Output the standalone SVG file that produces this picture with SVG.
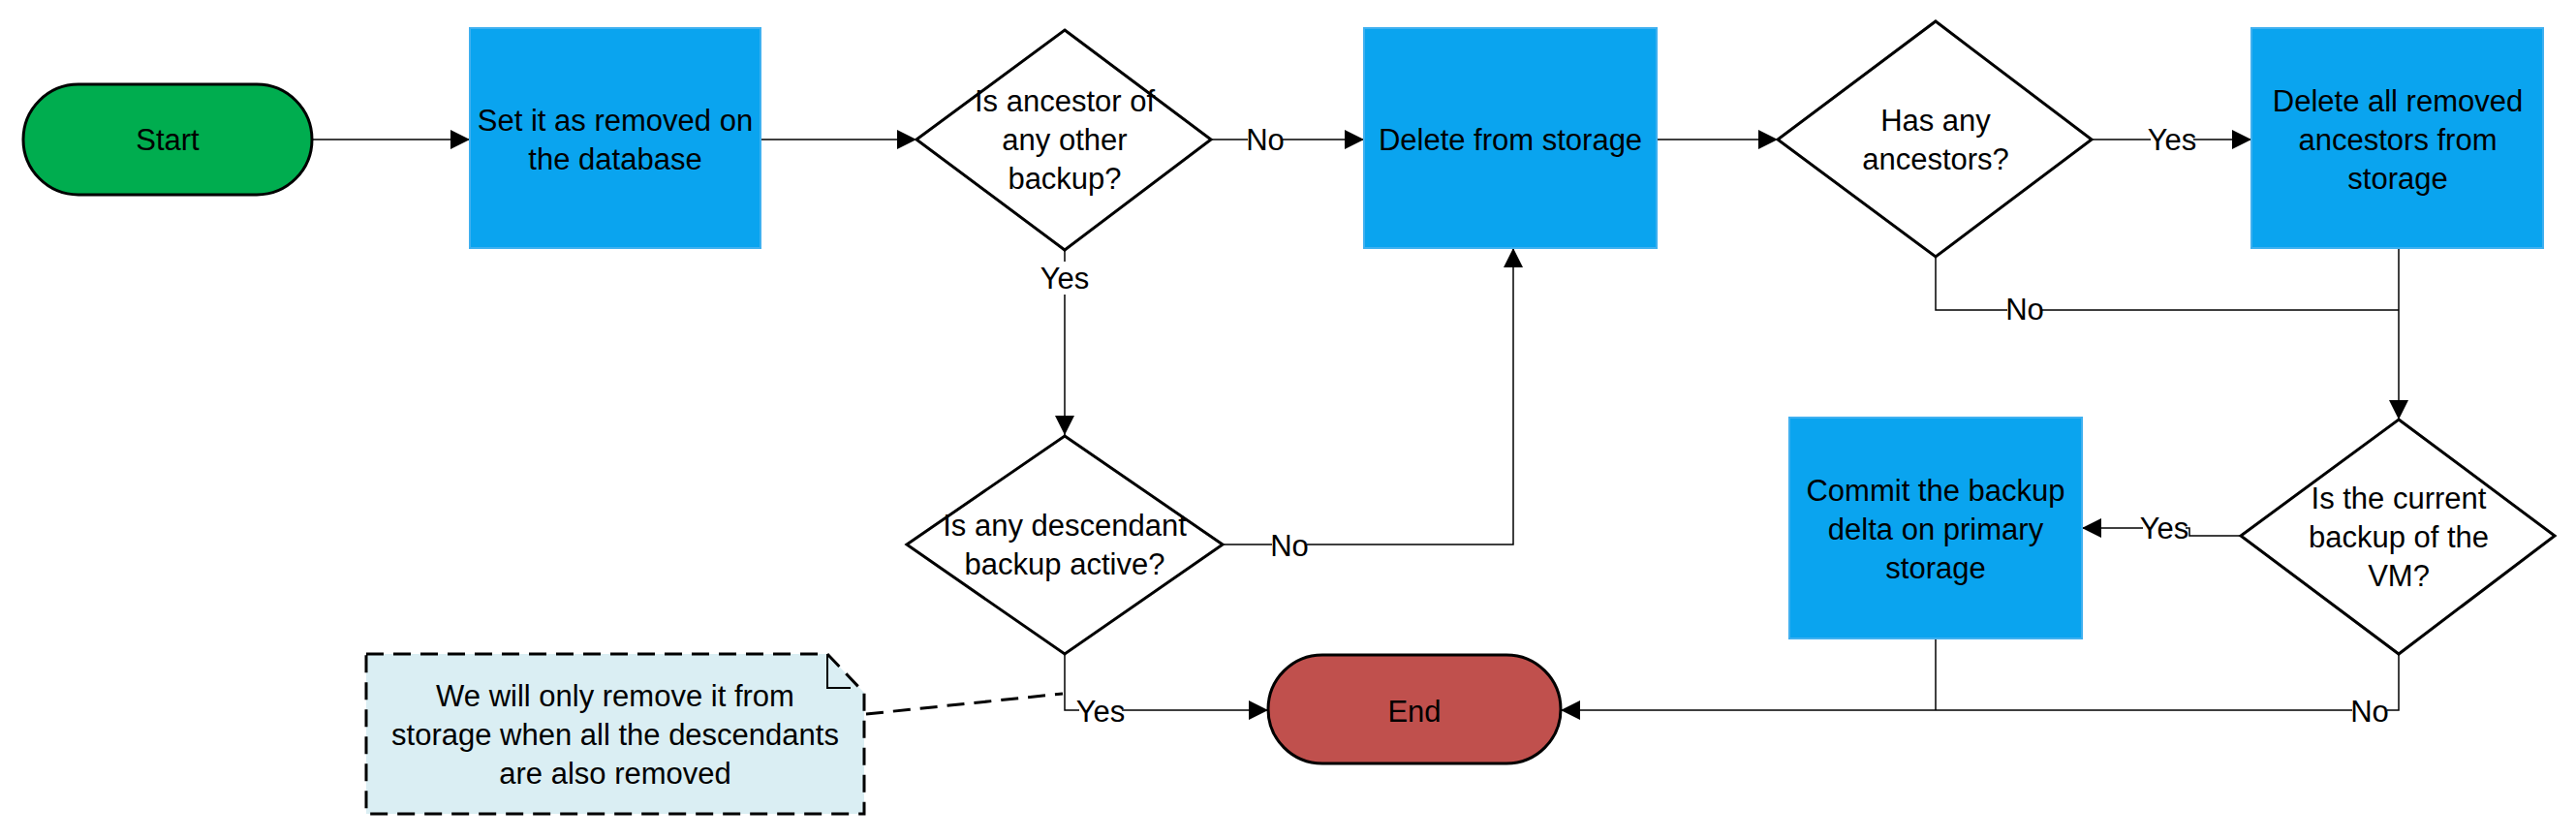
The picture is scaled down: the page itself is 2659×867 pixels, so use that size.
<svg xmlns="http://www.w3.org/2000/svg" width="2659" height="867" viewBox="0 0 2659 867">
<defs>
<style>
text{font-family:"Liberation Sans Narrow","Liberation Sans",sans-serif;font-size:31px;fill:#000;text-anchor:middle}
.box{fill:#0AA4EF;stroke:#3fb0f0;stroke-width:2}
.dia{fill:#fff;stroke:#000;stroke-width:3}
.c{fill:none;stroke:#000;stroke-width:1.5}
.lbl{fill:#fff}
</style>
<marker id="a" viewBox="0 0 10 10" refX="10" refY="5" markerWidth="8" markerHeight="8" markerUnits="userSpaceOnUse" orient="auto"><path d="M0,0L10,5L0,10z" fill="#000"/></marker>
<marker id="ab" viewBox="0 0 10 10" refX="10" refY="5" markerWidth="20" markerHeight="20" markerUnits="userSpaceOnUse" orient="auto"><path d="M0,0L10,5L0,10z" fill="#000"/></marker>
</defs>
<g id="connectors">
<path class="c" marker-end="url(#ab)" d="M322,144H485"/>
<path class="c" marker-end="url(#ab)" d="M785,144H946"/>
<path class="c" marker-end="url(#ab)" d="M1250,144H1408"/>
<path class="c" marker-end="url(#ab)" d="M1099,258V449"/>
<path class="c" marker-end="url(#ab)" d="M1262,562H1562V256"/>
<path class="c" marker-end="url(#ab)" d="M1710,144H1835"/>
<path class="c" marker-end="url(#ab)" d="M2159,144H2324"/>
<path class="c" d="M1998,265V320H2476"/>
<path class="c" marker-end="url(#ab)" d="M2476,256V433"/>
<path class="c" marker-end="url(#ab)" d="M2312,553H2260V545H2149"/>
<path class="c" marker-end="url(#ab)" d="M2476,675V733H1611"/>
<path class="c" d="M1998,660V733"/>
<path class="c" marker-end="url(#ab)" d="M1099,675V733H1309"/>
<path fill="none" stroke="#000" stroke-width="3" stroke-dasharray="18,10" d="M894,737L1097,716"/>
<rect class="lbl" x="1288" y="126" width="36" height="34"/><text x="1306" y="155">No</text>
<rect class="lbl" x="1077" y="270" width="44" height="34"/><text x="1099" y="298">Yes</text>
<rect class="lbl" x="1313" y="545" width="36" height="34"/><text x="1331" y="574">No</text>
<rect class="lbl" x="2220" y="126" width="44" height="34"/><text x="2242" y="155">Yes</text>
<rect class="lbl" x="2072" y="303" width="36" height="34"/><text x="2090" y="330">No</text>
<rect class="lbl" x="2212" y="530" width="44" height="30"/><text x="2234" y="556">Yes</text>
<rect class="lbl" x="2428" y="716" width="36" height="34"/><text x="2446" y="745">No</text>
<rect class="lbl" x="1114" y="716" width="44" height="34"/><text x="1136" y="745">Yes</text>
</g>
<g id="start"><rect x="24" y="87" width="298" height="114" rx="57" fill="#00AD4F" stroke="#000" stroke-width="3"/><text x="173" y="155">Start</text></g>
<g id="set-removed"><rect class="box" x="485" y="29" width="300" height="227"/><text x="635" y="135">Set it as removed on</text><text x="635" y="175">the database</text></g>
<g id="is-ancestor"><polygon class="dia" points="1099,31 1250,144 1099,258 946,144"/><text x="1099" y="115">Is ancestor of</text><text x="1099" y="155">any other</text><text x="1099" y="195">backup?</text></g>
<g id="delete-storage"><rect class="box" x="1408" y="29" width="302" height="227"/><text x="1559" y="155">Delete from storage</text></g>
<g id="has-ancestors"><polygon class="dia" points="1998,22 2159,144 1998,265 1835,144"/><text x="1998" y="135">Has any</text><text x="1998" y="175">ancestors?</text></g>
<g id="delete-ancestors"><rect class="box" x="2324" y="29" width="301" height="227"/><text x="2475" y="115">Delete all removed</text><text x="2475" y="155">ancestors from</text><text x="2475" y="195">storage</text></g>
<g id="is-current"><polygon class="dia" points="2476,433 2637,553 2476,675 2313,553"/><text x="2476" y="525">Is the current</text><text x="2476" y="565">backup of the</text><text x="2476" y="605">VM?</text></g>
<g id="commit"><rect class="box" x="1847" y="431" width="302" height="228"/><text x="1998" y="517">Commit the backup</text><text x="1998" y="557">delta on primary</text><text x="1998" y="597">storage</text></g>
<g id="is-descendant"><polygon class="dia" points="1099,450 1262,562 1099,675 936,562"/><text x="1099" y="553">Is any descendant</text><text x="1099" y="593">backup active?</text></g>
<g id="end"><rect x="1309" y="676" width="302" height="112" rx="56" fill="#C0504D" stroke="#000" stroke-width="3"/><text x="1460" y="745">End</text></g>
<g id="note"><path d="M378,675H854L892,715V840H378Z" fill="#DAEEF3" stroke="#000" stroke-width="3" stroke-dasharray="18,10"/><path d="M854,675V710H878" fill="none" stroke="#000" stroke-width="2"/><text x="635" y="729">We will only remove it from</text><text x="635" y="769">storage when all the descendants</text><text x="635" y="809">are also removed</text></g>
</svg>
